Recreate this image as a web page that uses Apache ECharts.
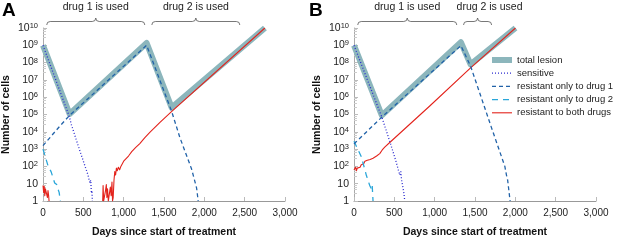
<!DOCTYPE html>
<html>
<head>
<meta charset="utf-8">
<script src="https://cdn.jsdelivr.net/npm/echarts@6.0.0/dist/echarts.min.js"></script>
<style>
  html, body { margin: 0; padding: 0; background: #fff; }
  #main { width: 617px; height: 243px; }
</style>
</head>
<body>
<div id="main"></div>
<script>
// values are read as log10(number of cells); null = no cells (line break)

// panel A
const totalDaysA = [0, 330, 1285, 1595, 2751];
const totalExpA = [9.0, 5.03, 9.13, 5.4, 10.0];
const sensDaysA = [0, 325, 352, 450, 558, 580, 592, 600, 606, 612];
const sensExpA = [9.0, 4.9, 4.41, 3.0, 1.5, 1.05, 1.2, 0.45, 0.6, 0];
const drug1DaysA = [0, 207, 330, 1285, 1595, 1696, 1841, 1850, 1862, 1903, 1910, 1923];
const drug1ExpA = [3.2, 4.32, 4.95, 9.0, 5.18, 3.68, 1.86, 1.95, 1.5, 0.77, 0.55, 0];
const drug2DaysA = [0, 62, 100, 145, 170, 186, 200, 215];
const drug2ExpA = [3.0, 2.04, 1.7, 1.04, 0.95, 0.68, 0.5, 0];
const bothDaysA = [0, 8, 15, 22, 30, 38, 45, 55, 62, 70, 75, 76,
  740, 745, 752, 770, 775, 785, 792, 800, 810, 830, 835, 845, 855, 862, 870,
  880, 890, 900, 910, 920, 935, 950, 965, 985, 1000, 1030, 1060, 1100, 1150,
  1200, 1260, 1324, 1450, 1593, 2751];
const bothExpA = [0.9, 0.5, 0.85, 0.3, 0.7, 0.6, 0.8, 0.2, 0.6, 0.3, 0, null,
  0, 0.9, 0, 0, 0.6, 0.95, 0.2, 0.7, 0, 0, 0.8, 0.3, 1.1, 0, 0.2,
  1.2, 1.7, 1.5, 1.9, 1.75, 1.95, 1.8, 2.0, 2.1, 2.3, 2.45, 2.6, 2.85, 3.1,
  3.32, 3.65, 3.96, 4.55, 5.17, 10.0];

// panel B
const totalDaysB = [0, 345, 1325, 1445, 2002];
const totalExpB = [9.0, 4.95, 9.18, 7.9, 10.0];
const sensDaysB = [0, 345, 450, 520, 567, 580, 590, 608, 620, 629];
const sensExpB = [9.0, 4.85, 3.35, 2.3, 1.5, 1.7, 1.2, 0.75, 0.4, 0];
const drug1DaysB = [0, 345, 1325, 1445, 1700, 1870, 1890, 1905, 1920, 1935];
const drug1ExpB = [3.3, 4.85, 8.98, 7.8, 4.3, 2.0, 1.5, 1.2, 0.6, 0];
const drug2DaysB = [0, 91, 154, 195, 210, 225, 236];
const drug2ExpB = [3.45, 2.56, 1.47, 0.9, 0.75, 0.95, 0];
const bothDaysB = [0, 10, 20, 30, 40, 50, 60, 75, 90, 105, 120, 135, 150, 165, 180,
  200, 220, 236, 260, 280, 300, 319, 350, 381, 443, 939, 1445, 2002];
const bothExpB = [1.8, 1.7, 1.95, 1.75, 1.9, 1.85, 2.0, 1.95, 2.1, 2.05, 2.15, 2.3, 2.2, 2.35, 2.3,
  2.4, 2.42, 2.47, 2.52, 2.6, 2.65, 2.74, 2.95, 3.11, 3.38, 5.49, 7.7, 10.0];

// drug periods (braces): start day, end day, label, label day (centre)
const drugSpansA = [[46, 1262, 'drug 1 is used', 654], [1349, 2440, 'drug 2 is used', 1895]];
const drugSpansB = [[46, 1274, 'drug 1 is used', 660], [1358, 1706, 'drug 2 is used', 1680]];

const FONT = 'Liberation Sans';
const C_TOTAL = '#8cb6bc';
const C_SENS = '#2b2bcf';
const C_D1 = '#2162a8';
const C_D2 = '#2aa6d9';
const C_BOTH = '#e3231c';

// name, color, width, dash
const legendItems = [
  ['total lesion', C_TOTAL, 6, null],
  ['sensitive', C_SENS, 1.3, [1, 2]],
  ['resistant only to drug 1', C_D1, 1.3, [4, 3]],
  ['resistant only to drug 2', C_D2, 1.3, [6, 5]],
  ['resistant to both drugs', C_BOTH, 1.1, null]
];

function pts(days, exps) {
  return days.map((d, i) => [d, exps[i] == null ? null : Math.pow(10, exps[i])]);
}

const chart = echarts.init(document.getElementById('main'), null, { renderer: 'canvas' });

function xAxis(idx) {
  return {
    type: 'value', gridIndex: idx, min: 0, max: 3000, interval: 500,
    name: 'Days since start of treatment', nameLocation: 'middle', nameGap: 26,
    nameTextStyle: { fontFamily: FONT, fontWeight: 'bold', fontSize: 10.5, color: '#111' },
    axisLine: { lineStyle: { color: '#999', width: 1 } },
    axisTick: { inside: true, length: 4, lineStyle: { color: '#bbb' } },
    axisLabel: {
      fontFamily: FONT, fontSize: 10, color: '#222', margin: 7,
      formatter: v => v.toLocaleString('en-US')
    },
    splitLine: { show: false }
  };
}

function yAxis(idx) {
  return {
    type: 'log', logBase: 10, gridIndex: idx, min: 1, max: 1e10, interval: 1,
    name: 'Number of cells', nameLocation: 'middle', nameGap: 31,
    nameTextStyle: { fontFamily: FONT, fontWeight: 'bold', fontSize: 10.5, color: '#111' },
    axisLine: { lineStyle: { color: '#aaa', width: 1 } },
    axisTick: { inside: true, length: 4, lineStyle: { color: '#bbb' } },
    minorTick: { show: true, splitNumber: 5, length: 3, lineStyle: { color: '#ccc' } },
    axisLabel: {
      fontFamily: FONT, fontSize: 10.5, color: '#222', margin: 5,
      formatter: v => {
        const e = Math.round(Math.log10(v));
        if (e === 0) return '1';
        if (e === 1) return '10';
        return '10{s|' + e + '}';
      },
      rich: { s: { fontFamily: FONT, fontSize: 7.5, color: '#222', verticalAlign: 'top', padding: [0, 0, 4, 0] } }
    },
    splitLine: { show: false }
  };
}

function lineSeries(name, idx, data, color, width, type, z) {
  return {
    name, type: 'line', xAxisIndex: idx, yAxisIndex: idx, data,
    showSymbol: false, symbol: 'none', animation: false, z,
    lineStyle: { color, width, type, cap: 'butt', join: 'round' },
    itemStyle: { color }
  };
}

const series = [];
[[0, totalDaysA, totalExpA, sensDaysA, sensExpA, drug1DaysA, drug1ExpA, drug2DaysA, drug2ExpA, bothDaysA, bothExpA],
 [1, totalDaysB, totalExpB, sensDaysB, sensExpB, drug1DaysB, drug1ExpB, drug2DaysB, drug2ExpB, bothDaysB, bothExpB]]
  .forEach(([i, td, te, sd, se, d1d, d1e, d2d, d2e, bd, be]) => {
    series.push(lineSeries('total lesion', i, pts(td, te), C_TOTAL, 6, 'solid', 1));
    series.push(lineSeries('resistant to both drugs', i, pts(bd, be), C_BOTH, 1.1, 'solid', 2));
    series.push(lineSeries('resistant only to drug 2', i, pts(d2d, d2e), C_D2, 1.3, [6, 5], 3));
    series.push(lineSeries('resistant only to drug 1', i, pts(d1d, d1e), C_D1, 1.3, [4, 3], 4));
    series.push(lineSeries('sensitive', i, pts(sd, se), C_SENS, 1.3, [1, 2], 5));
  });

chart.setOption({
  animation: false,
  textStyle: { fontFamily: FONT },
  grid: [
    { left: 43, top: 28, width: 242, height: 183 },
    { left: 354, top: 28, width: 242, height: 182 }
  ],
  xAxis: [xAxis(0), xAxis(1)],
  yAxis: [yAxis(0), yAxis(1)],
  series
});

// curly brace built from straight segments and quadratic curves
function braceParts(x1, x2, y, h) {
  const m = (x1 + x2) / 2;
  const st = { stroke: '#555', lineWidth: 0.8, fill: null };
  const q = (ax, ay, bx, by, cx, cy) => ({
    type: 'bezierCurve', shape: { x1: ax, y1: ay, x2: bx, y2: by, cpx1: cx, cpy1: cy }, style: st
  });
  const l = (ax, bx) => ({ type: 'line', shape: { x1: ax, y1: y, x2: bx, y2: y }, style: st });
  return [
    q(x1, y + h, x1 + h, y, x1, y),
    l(x1 + h, m - h),
    q(m - h, y, m, y - h, m, y),
    q(m, y - h, m + h, y, m, y),
    l(m + h, x2 - h),
    q(x2 - h, y, x2, y + h, x2, y)
  ];
}

const graphic = [
  { type: 'text', style: { text: 'A', x: 2, y: 1, fontFamily: FONT, fontWeight: 'bold', fontSize: 19, fill: '#000' } },
  { type: 'text', style: { text: 'B', x: 309, y: 1, fontFamily: FONT, fontWeight: 'bold', fontSize: 19, fill: '#000' } }
];
[[0, drugSpansA], [1, drugSpansB]].forEach(([i, spans]) => {
  spans.forEach(([d1, d2, label, dl]) => {
    const x1 = chart.convertToPixel({ xAxisIndex: i }, d1);
    const x2 = chart.convertToPixel({ xAxisIndex: i }, d2);
    const xl = chart.convertToPixel({ xAxisIndex: i }, dl);
    braceParts(x1, x2, 21.5, 3.5).forEach(p => graphic.push(p));
    graphic.push({
      type: 'text',
      style: {
        text: label, x: xl, y: 7, align: 'center', verticalAlign: 'middle',
        fontFamily: FONT, fontSize: 10.5, fill: '#222'
      }
    });
  });
});

// legend drawn by hand so that the keys are plain line samples
legendItems.forEach(([name, color, width, dash], k) => {
  const y = 60 + k * 13.2;
  graphic.push({
    type: 'line', shape: { x1: 492, y1: y, x2: 512, y2: y },
    style: { stroke: color, lineWidth: width, lineDash: dash, lineCap: 'butt' }
  });
  graphic.push({
    type: 'text',
    style: { text: name, x: 517, y, verticalAlign: 'middle', fontFamily: FONT, fontSize: 9.5, fill: '#222' }
  });
});

chart.setOption({ graphic });
</script>
</body>
</html>
